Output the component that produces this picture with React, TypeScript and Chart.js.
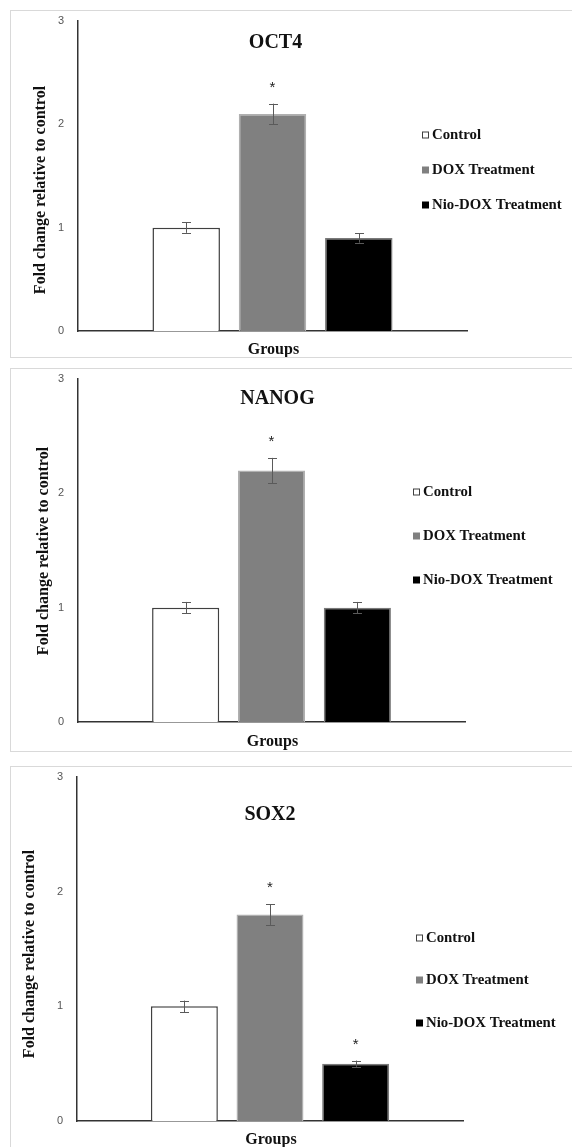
import React, { useEffect, useRef } from "react";
import { Chart, registerables } from "chart.js";

Chart.register(...registerables);

// ---------- data ----------
const groups = ["Control", "DOX Treatment", "Nio-DOX Treatment"];
const genes = ["OCT4", "NANOG", "SOX2"];
const xAxisTitle = "Groups";
const yAxisTitle = "Fold change relative to control";
const yTicks = [0, 1, 2, 3];

const oct4Means = [1.0, 2.1, 0.9];
const oct4Errors = [0.05, 0.1, 0.045];
const oct4Significant = [false, true, false];

const nanogMeans = [1.0, 2.2, 1.0];
const nanogErrors = [0.05, 0.11, 0.05];
const nanogSignificant = [false, true, false];

const sox2Means = [1.0, 1.8, 0.5];
const sox2Errors = [0.05, 0.09, 0.027];
const sox2Significant = [false, true, true];

const seriesMeans = [oct4Means, nanogMeans, sox2Means];
const seriesErrors = [oct4Errors, nanogErrors, sox2Errors];
const seriesSignificant = [oct4Significant, nanogSignificant, sox2Significant];

// ---------- styles ----------
const FILL = ["#ffffff", "#808080", "#000000"];
const BORDER = ["#404040", "#b0b0b0", "#7a7a7a"];
const BORDER_W = [1.5, 1.5, 1.5];
const SERIF = '"Liberation Serif", "Times New Roman", serif';
const SANS = '"Liberation Sans", Arial, sans-serif';
const PAGE_W = 572;
const PAGE_H = 1147;

// ---------- layout (px, relative to each panel's top) ----------
const LAYOUTS = [
  { top: 10, height: 347, boxH: 348, areaTop: 11, areaBottom: 321, left: 78, right: 467,
    titleY: 33, titleDx: 3, legX: 422, legY: [125, 160, 195], yTitleX: 41, yTitleY: 180, groupsY: 340 },
  { top: 368, height: 384, boxH: 384, areaTop: 11, areaBottom: 354, left: 78, right: 465,
    titleY: 31, titleDx: 6, legX: 413, legY: [124, 168, 212], yTitleX: 44, yTitleY: 183, groupsY: 374 },
  { top: 766, height: 381, boxH: 420, areaTop: 11, areaBottom: 355, left: 77, right: 463,
    titleY: 49, titleDx: 0, legX: 416, legY: [172, 214, 257], yTitleX: 30, yTitleY: 188, groupsY: 374 },
];

const decorPlugin = {
  id: "decor",
  afterDatasetsDraw(chart: any, _args: any, opts: any) {
    const ctx = chart.ctx;
    const yScale = chart.scales.y;
    const area = chart.chartArea;
    const means: number[] = opts.means;
    const errs: number[] = opts.errors;
    const sig: boolean[] = opts.significant;
    const L = opts.layout;
    ctx.save();
    // error bars + stars
    for (let i = 0; i < means.length; i++) {
      const bar = chart.getDatasetMeta(i).data[0];
      const x = Math.round(bar.x) + 0.5;
      const yTop = yScale.getPixelForValue(means[i] + errs[i]);
      const yBot = yScale.getPixelForValue(means[i] - errs[i]);
      ctx.strokeStyle = "#5a5a5a";
      ctx.lineWidth = 1;
      ctx.beginPath();
      ctx.moveTo(x, yTop);
      ctx.lineTo(x, yBot);
      ctx.moveTo(x - 4.5, Math.round(yTop) + 0.5);
      ctx.lineTo(x + 4.5, Math.round(yTop) + 0.5);
      ctx.moveTo(x - 4.5, Math.round(yBot) + 0.5);
      ctx.lineTo(x + 4.5, Math.round(yBot) + 0.5);
      ctx.stroke();
      if (sig[i]) {
        ctx.fillStyle = "#222";
        ctx.font = `15px ${SANS}`;
        ctx.textAlign = "center";
        ctx.textBaseline = "alphabetic";
        ctx.fillText("*", bar.x, yTop - 12);
      }
    }
    // in-plot title
    const cx = (area.left + area.right) / 2;
    ctx.fillStyle = "#111";
    ctx.font = `bold 20px ${SERIF}`;
    ctx.textAlign = "center";
    ctx.textBaseline = "middle";
    ctx.fillText(opts.title, cx + L.titleDx, L.titleY);
    // legend
    ctx.font = `bold 14.8px ${SERIF}`;
    ctx.textAlign = "left";
    for (let i = 0; i < groups.length; i++) {
      const yy = L.legY[i];
      ctx.fillStyle = FILL[i];
      ctx.fillRect(L.legX, yy - 3.5, 7, 7);
      if (i === 0) {
        ctx.strokeStyle = "#404040";
        ctx.lineWidth = 1;
        ctx.strokeRect(L.legX + 0.5, yy - 3, 6, 6);
      }
      ctx.fillStyle = "#111";
      ctx.fillText(groups[i], L.legX + 10, yy + 0.5);
    }
    // y axis title
    ctx.save();
    ctx.translate(L.yTitleX, L.yTitleY);
    ctx.rotate(-Math.PI / 2);
    ctx.font = `bold 16px ${SERIF}`;
    ctx.textAlign = "center";
    ctx.textBaseline = "middle";
    ctx.fillText(yAxisTitle, 0, 0);
    ctx.restore();
    // x axis title
    ctx.font = `bold 16px ${SERIF}`;
    ctx.textAlign = "center";
    ctx.textBaseline = "middle";
    ctx.fillText(xAxisTitle, cx + 1, L.groupsY);
    ctx.restore();
  },
};

function Panel({ idx }: { idx: number }) {
  const ref = useRef<HTMLCanvasElement>(null);
  const L = LAYOUTS[idx];
  useEffect(() => {
    if (!ref.current) return;
    const chart = new Chart(ref.current, {
      type: "bar",
      data: {
        labels: [xAxisTitle],
        datasets: groups.map((g, i) => ({
          label: g,
          data: [seriesMeans[idx][i]],
          backgroundColor: FILL[i],
          borderColor: BORDER[i],
          borderWidth: BORDER_W[i],
          categoryPercentage: 0.6655,
          barPercentage: 0.782,
        })),
      },
      options: {
        responsive: false,
        maintainAspectRatio: false,
        animation: false,
        devicePixelRatio: 1,
        events: [],
        layout: {
          padding: { left: 0, top: L.areaTop, right: PAGE_W - L.right, bottom: 0 },
        },
        plugins: {
          legend: { display: false },
          tooltip: { enabled: false },
          title: { display: false },
          decor: {
            means: seriesMeans[idx],
            errors: seriesErrors[idx],
            significant: seriesSignificant[idx],
            title: genes[idx],
            layout: L,
          },
        } as any,
        scales: {
          x: {
            grid: { display: false, drawTicks: false, tickLength: 0 },
            border: { display: true, color: "#333333", width: 1.5 },
            ticks: { display: false, padding: 0 },
            afterFit: (s: any) => {
              s.height = L.height - L.areaBottom;
            },
          },
          y: {
            min: yTicks[0],
            max: yTicks[yTicks.length - 1],
            ticks: {
              stepSize: 1,
              padding: 3,
              color: "#555555",
              font: { family: SANS, size: 11 },
            },
            grid: { display: false, drawTicks: true, tickLength: 11 },
            border: { display: true, color: "#333333", width: 1.5 },
            afterFit: (s: any) => {
              s.width = L.left;
            },
          },
        },
      },
      plugins: [decorPlugin],
    } as any);
    return () => chart.destroy();
  }, [idx]);
  return (
    <>
      <div
        style={{
          position: "absolute",
          left: 10,
          top: L.top,
          width: 600,
          height: L.boxH,
          boxSizing: "border-box",
          border: "1px solid #d9d9d9",
        }}
      />
      <canvas
        ref={ref}
        width={PAGE_W}
        height={L.height}
        style={{ position: "absolute", left: 0, top: L.top, width: PAGE_W, height: L.height }}
      />
    </>
  );
}

export default function App() {
  return (
    <div
      style={{
        position: "absolute",
        left: 0,
        top: 0,
        width: PAGE_W,
        height: PAGE_H,
        overflow: "hidden",
        background: "#ffffff",
      }}
    >
      {LAYOUTS.map((_, i) => (
        <Panel key={i} idx={i} />
      ))}
    </div>
  );
}
